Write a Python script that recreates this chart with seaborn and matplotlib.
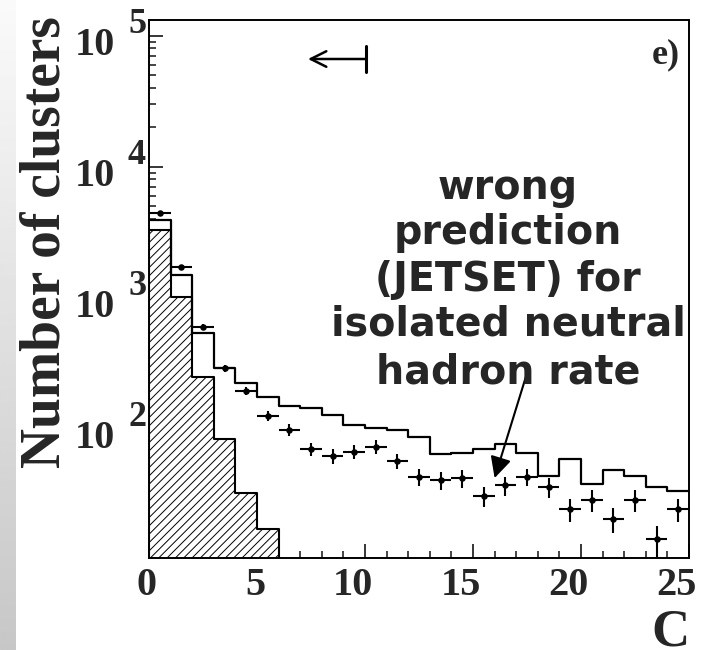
import numpy as np
import pandas as pd
import matplotlib
matplotlib.use("Agg")
import matplotlib.pyplot as plt
from matplotlib.ticker import LogLocator, MultipleLocator, NullFormatter
from matplotlib.transforms import ScaledTranslation, blended_transform_factory
import seaborn as sns

# ---------------- data ----------------
bin_edges = list(range(0, 26))
bin_centers = [i + 0.5 for i in range(25)]

# open histogram (JETSET Monte Carlo)
mc_counts = [3920, 1490, 541, 292, 224, 174, 149, 144, 127, 107, 102, 98, 87,
             64, 65, 70, 77, 65.6, 43.8, 58.8, 37.6, 48.4, 43.8, 36.1, 33.6]

# hatched histogram (background component)
hatch_counts = [3290, 1020, 249, 83, 32.5, 17.1]

# data points with statistical errors
data_counts = [4400, 1730, 600, 290, 194, 125, 98, 70, 62, 66.7, 73, 56.6, 43,
               40.6, 41.8, 30.6, 37, 43, 35.7, 24.4, 28.6, 20.5, 28.6, 14.3, 24.4]
data_errors = [66, 42, 24.5, 17, 13.9, 11.2, 9.9, 8.4, 7.9, 8.2, 8.5, 7.5, 6.6,
               6.4, 6.5, 5.5, 6.1, 6.6, 6.0, 4.9, 5.3, 4.5, 5.3, 3.8, 4.9]

x_ticks = [0, 5, 10, 15, 20, 25]
y_ticks = [1e2, 1e3, 1e4, 1e5]
y_exponents = ["2", "3", "4", "5"]
annotation_lines = ["wrong", "prediction", "(JETSET) for", "isolated neutral", "hadron rate"]

mc_df = pd.DataFrame({"C": bin_centers, "n": mc_counts})
hatch_df = pd.DataFrame({"C": bin_centers[:len(hatch_counts)], "n": hatch_counts})
data_df = pd.DataFrame({"C": bin_centers, "n": data_counts, "err": data_errors})

# ---------------- style ----------------
sns.set_style("white")
plt.rcParams["font.family"] = ["Liberation Serif", "DejaVu Serif"]
plt.rcParams["hatch.linewidth"] = 0.7

W, H = 719, 650
fig = plt.figure(figsize=(W / 100, H / 100), dpi=100)
fig.patch.set_facecolor("white")

# grey slide strip on the left
strip = fig.add_axes([0, 0, 16 / W, 1], zorder=-5)
grad = np.linspace(0.98, 0.78, 256).reshape(-1, 1)
strip.imshow(grad, aspect="auto", cmap="gray", vmin=0, vmax=1, extent=[0, 1, 0, 1])
strip.set_axis_off()

ax = fig.add_axes([149 / W, 1 - 558.3 / H, (689 - 149) / W, (558.3 - 20) / H])

# hatched component
sns.histplot(data=hatch_df, x="C", weights="n", bins=bin_edges[:len(hatch_counts) + 1],
             element="step", fill=True, color="white", edgecolor="black",
             hatch="////", linewidth=1.5, alpha=1, ax=ax, zorder=2)
# MC histogram
sns.histplot(data=mc_df, x="C", weights="n", bins=bin_edges,
             element="step", fill=False, color="black", linewidth=1.6, ax=ax, zorder=3)
# data points
ax.errorbar(data_df["C"], data_df["n"], yerr=data_df["err"], xerr=0.5,
            fmt="none", ecolor="black", elinewidth=1.5, capsize=0, zorder=4)
sns.scatterplot(data=data_df, x="C", y="n", color="black", s=22, marker="o",
                edgecolor="black", linewidth=0, ax=ax, zorder=5)

ax.set_yscale("log")
ax.set_xlim(0, 25)
ax.set_ylim(10.25, 1.318e5)

# ticks
ax.xaxis.set_minor_locator(MultipleLocator(1))
ax.set_xticks(x_ticks)
ax.set_xticklabels([str(t) for t in x_ticks], fontsize=29, fontweight="bold", ha="right")
ax.set_yticks(y_ticks)
ax.set_yticklabels(["10"] * len(y_ticks), fontsize=29, fontweight="bold")
ax.yaxis.set_minor_locator(LogLocator(base=10, subs=np.arange(2, 10)))
ax.yaxis.set_minor_formatter(NullFormatter())
ax.tick_params(axis="y", which="major", direction="in", length=10,
               width=1.3, pad=24.5, left=True, right=False)
ax.tick_params(axis="y", which="minor", direction="in", length=5, width=1.2,
               left=True, right=False)
ax.tick_params(axis="x", which="major", direction="in", length=10, width=1.3,
               pad=6, bottom=True, top=False)
ax.tick_params(axis="x", which="minor", direction="in", length=5, width=1.2,
               bottom=True, top=False)
for sp in ax.spines.values():
    sp.set_linewidth(1.4)
    sp.set_color("black")
ax.set_xlabel("")
ax.set_ylabel("")

# decade exponents next to the "10" tick labels
ytrans = blended_transform_factory(ax.transAxes, ax.transData)
for yv, ex in zip(y_ticks, y_exponents):
    ax.annotate(ex, xy=(-21 / 540, yv), xycoords=ytrans, xytext=(0, 2),
                textcoords="offset points", ha="left", va="baseline",
                fontsize=26, fontweight="bold", annotation_clip=False)

# axis titles
fig.text(46 / W, 1 - 242 / H, "Number of clusters", rotation=90, ha="center",
         va="center", fontsize=40, fontweight="bold")
fig.text(690 / W, 5 / H, "C", ha="right", va="baseline", fontsize=38,
         fontweight="bold")

# panel label
ax.text(0.983, 0.935, "e)", transform=ax.transAxes, ha="right", va="center",
        fontsize=26, fontweight="bold")

# cut arrow at the top
ax.annotate("", xy=(7.36, 66400), xytext=(10.05, 66400),
            arrowprops=dict(arrowstyle="->", lw=1.8, color="black", mutation_scale=28,
                            shrinkA=0, shrinkB=0))
ax.plot([10.05, 10.05], [52800, 83400], color="black", lw=2.2)

# annotation text
line_y = [188, 233, 280, 325, 372]
for txt, yy in zip(annotation_lines, line_y):
    fig.text(508 / W, 1 - yy / H, txt, ha="center", va="center", fontsize=28.5,
             fontweight="bold", family=["DejaVu Sans"])

ax.annotate("", xy=(16.0, 42), xytext=(17.6, 300),
            arrowprops=dict(arrowstyle="-|>", lw=1.5, color="black", mutation_scale=32,
                            shrinkA=0, shrinkB=0))

# shift tick labels to match the reference's placement
fig.canvas.draw()
for lab in ax.get_xticklabels():
    lab.set_transform(lab.get_transform() + ScaledTranslation(8 / 100, 0, fig.dpi_scale_trans))
for lab in ax.get_yticklabels():
    lab.set_transform(lab.get_transform() + ScaledTranslation(0, -5 / 100, fig.dpi_scale_trans))

fig.savefig("out.png", dpi=100)
